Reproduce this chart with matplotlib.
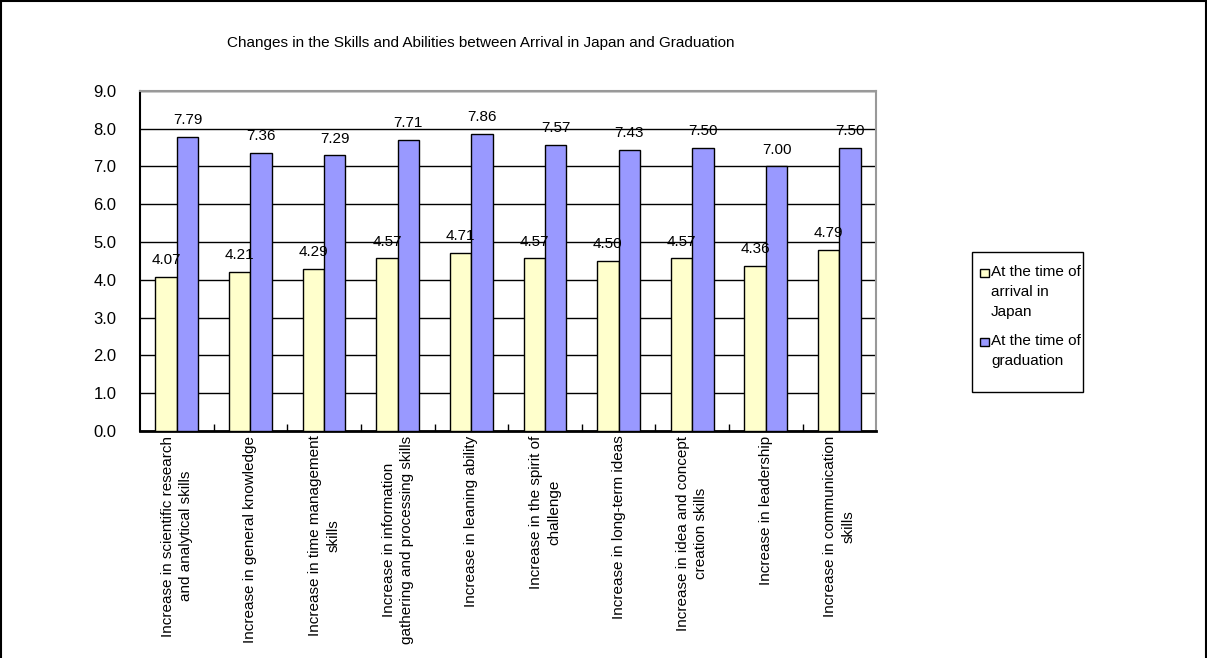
import numpy as np
import matplotlib
matplotlib.use("Agg")
import matplotlib.pyplot as plt
from matplotlib.lines import Line2D
from matplotlib.patches import Rectangle

plt.rcParams["font.family"] = ["Liberation Sans", "DejaVu Sans"]

# ---- data -------------------------------------------------------------------
CATEGORIES = [
    "Increase in scientific research\nand analytical skills",
    "Increase in general knowledge",
    "Increase in time management\nskills",
    "Increase in information\ngathering and processing skills",
    "Increase in leaning ability",
    "Increase in the spirit of\nchallenge",
    "Increase in long-term ideas",
    "Increase in idea and concept\ncreation skills",
    "Increase in leadership",
    "Increase in communication\nskills",
]
ARRIVAL = [4.07, 4.21, 4.29, 4.57, 4.71, 4.57, 4.50, 4.57, 4.36, 4.79]
GRADUATION = [7.79, 7.36, 7.29, 7.71, 7.86, 7.57, 7.43, 7.50, 7.00, 7.50]
SERIES_LABELS = ["At the time of\narrival in\nJapan", "At the time of\ngraduation"]
TITLE = "Changes in the Skills and Abilities between Arrival in Japan and Graduation"
YTICKS = [0, 1, 2, 3, 4, 5, 6, 7, 8, 9]

C_ARR, C_GRAD = "#FFFFCC", "#9999FF"
FS = 11

fig = plt.figure(figsize=(12.07, 6.58), dpi=100)
ax = fig.add_axes([0.116, 0.345, 0.610, 0.517])

x = np.arange(len(CATEGORIES))
w = 0.29
ax.bar(x - w / 2, ARRIVAL, w, color=C_ARR, edgecolor="black", lw=1.0, zorder=3)
ax.bar(x + w / 2, GRADUATION, w, color=C_GRAD, edgecolor="black", lw=1.0, zorder=3)
for xi, v in zip(x - w / 2, ARRIVAL):
    ax.annotate(f"{v:.2f}", (xi, v), xytext=(0, 7), textcoords="offset points",
                ha="center", va="bottom", fontsize=FS, zorder=5)
for xi, v in zip(x + w / 2, GRADUATION):
    ax.annotate(f"{v:.2f}", (xi, v), xytext=(0, 7), textcoords="offset points",
                ha="center", va="bottom", fontsize=FS, zorder=5)

ax.set_xlim(-0.5, len(CATEGORIES) - 0.5)
ax.set_ylim(0, 9)
ax.set_yticks(YTICKS)
ax.set_yticklabels([f"{t:.1f}" for t in YTICKS], fontsize=12)
ax.grid(axis="y", color="black", lw=1.0, zorder=1)

# category boundary ticks on x-axis, labels placed as rotated text
ax.set_xticks(np.arange(0.5, len(CATEGORIES) - 0.5, 1.0))
ax.set_xticklabels([])
ax.tick_params(axis="x", direction="in", length=5, width=1.0)
ax.tick_params(axis="y", length=0, pad=17)
for xi, lab in zip(x, CATEGORIES):
    ax.text(xi, -0.12, lab, rotation=90, ha="center", va="top", fontsize=FS,
            multialignment="center", linespacing=1.4)

ax.spines["left"].set_color("black")
ax.spines["left"].set_linewidth(1.5)
ax.spines["bottom"].set_color("black")
ax.spines["bottom"].set_linewidth(2.0)
ax.spines["top"].set_color("#999999")
ax.spines["top"].set_linewidth(1.5)
ax.spines["right"].set_color("#999999")
ax.spines["right"].set_linewidth(1.5)

fig.text(0.398, 0.934, TITLE, ha="center", va="center", fontsize=FS)

# legend box, swatch aligned with first text line (as in the spreadsheet style)
W, H = 1207, 658
fig.add_artist(Rectangle((972 / W, 1 - 392 / H), 111 / W, 140 / H, transform=fig.transFigure,
                         facecolor="white", edgecolor="black", lw=1.0))
for lab, col, ytop in zip(SERIES_LABELS, [C_ARR, C_GRAD], [273, 342]):
    fig.add_artist(Rectangle((980 / W, 1 - (ytop + 4) / H), 9 / W, 8 / H,
                             transform=fig.transFigure, facecolor=col, edgecolor="black", lw=1.0))
    fig.text(991 / W, 1 - (ytop - 8) / H, lab, ha="left", va="top", fontsize=FS,
             linespacing=1.55)

# outer chart border (bottom cut off in the original)
for xs, ys in [([0.001, 0.999], [0.998, 0.998]), ([0.001, 0.001], [0, 0.998]),
               ([0.999, 0.999], [0, 0.998])]:
    fig.add_artist(Line2D(xs, ys, color="black", lw=1.5, transform=fig.transFigure))

fig.savefig("out.png", dpi=100)
